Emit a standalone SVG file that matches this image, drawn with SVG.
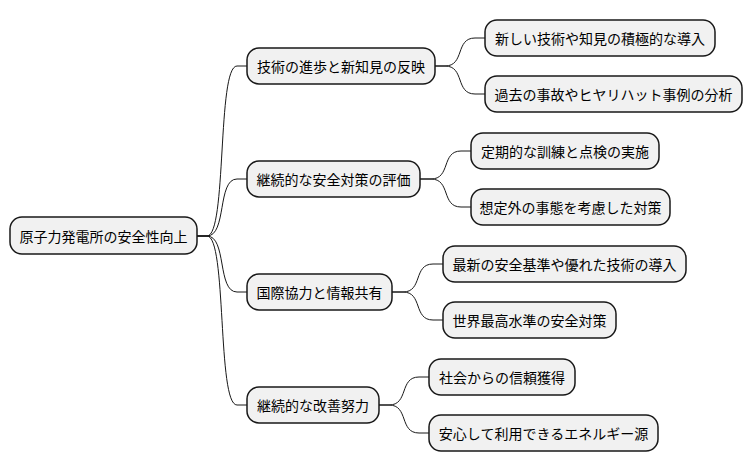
<svg xmlns="http://www.w3.org/2000/svg" width="754" height="471" viewBox="0 0 754 471">
<style>
rect{fill:#f1f1f1;stroke:#181818;stroke-width:1.5}
text{font-family:"Noto Sans CJK JP","Noto Sans",sans-serif;font-size:14px;fill:#000;dominant-baseline:central}
path{fill:none;stroke:#181818;stroke-width:1}
</style>
<rect x="0" y="0" width="754" height="471" style="fill:#fff;stroke:none"/>
<g id="connectors">
<path d="M197,236 H207 C227,236 217,66 237,66 H247"/>
<path d="M197,236 H207 C227,236 217,179 237,179 H247"/>
<path d="M197,236 H207 C227,236 217,292 237,292 H247"/>
<path d="M197,236 H207 C227,236 217,405 237,405 H247"/>
<path d="M435,66 H445 C465,66 455,38 475,38 H485"/>
<path d="M435,66 H445 C465,66 455,94 475,94 H485"/>
<path d="M420,179 H431 C451,179 441,151 461,151 H471"/>
<path d="M420,179 H431 C451,179 441,207 461,207 H471"/>
<path d="M392,292 H403 C423,292 413,264 433,264 H443"/>
<path d="M392,292 H403 C423,292 413,320 433,320 H443"/>
<path d="M379,405 H389 C409,405 399,377 419,377 H429"/>
<path d="M379,405 H389 C409,405 399,433 419,433 H429"/>
</g>
<g id="root"><rect x="10" y="217" width="187" height="37" rx="12"/><text x="103.5" y="236" text-anchor="middle">原子力発電所の安全性向上</text></g>
<g id="n1"><rect x="247" y="48" width="188" height="36" rx="12"/><text x="341" y="66" text-anchor="middle">技術の進歩と新知見の反映</text></g>
<g id="n2"><rect x="247" y="161" width="173" height="36" rx="12"/><text x="333.5" y="179" text-anchor="middle">継続的な安全対策の評価</text></g>
<g id="n3"><rect x="247" y="274" width="145" height="36" rx="12"/><text x="319.5" y="292" text-anchor="middle">国際協力と情報共有</text></g>
<g id="n4"><rect x="247" y="387" width="132" height="36" rx="12"/><text x="313" y="405" text-anchor="middle">継続的な改善努力</text></g>
<g id="a"><rect x="485" y="20" width="230" height="36" rx="12"/><text x="600" y="38" text-anchor="middle">新しい技術や知見の積極的な導入</text></g>
<g id="b"><rect x="485" y="76" width="257" height="36" rx="12"/><text x="613.5" y="94" text-anchor="middle">過去の事故やヒヤリハット事例の分析</text></g>
<g id="c"><rect x="471" y="133" width="188" height="36" rx="12"/><text x="565" y="151" text-anchor="middle">定期的な訓練と点検の実施</text></g>
<g id="d"><rect x="471" y="189" width="199" height="36" rx="12"/><text x="570.5" y="207" text-anchor="middle">想定外の事態を考慮した対策</text></g>
<g id="e"><rect x="443" y="246" width="243" height="36" rx="12"/><text x="564.5" y="264" text-anchor="middle">最新の安全基準や優れた技術の導入</text></g>
<g id="f"><rect x="443" y="302" width="173" height="36" rx="12"/><text x="529.5" y="320" text-anchor="middle">世界最高水準の安全対策</text></g>
<g id="g"><rect x="429" y="359" width="146" height="36" rx="12"/><text x="502" y="377" text-anchor="middle">社会からの信頼獲得</text></g>
<g id="h"><rect x="429" y="415" width="229" height="36" rx="12"/><text x="543.5" y="433" text-anchor="middle">安心して利用できるエネルギー源</text></g>
</svg>
